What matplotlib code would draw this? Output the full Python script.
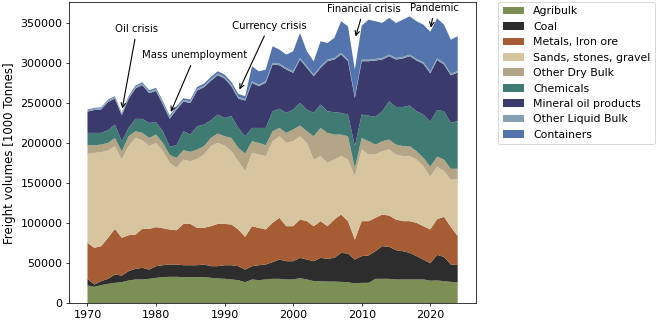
import numpy as np
import matplotlib
matplotlib.use("Agg")
import matplotlib.pyplot as plt

# ── DATA (1000 tonnes) ─────────────────────────────────────────────────────────
years = list(range(1970, 2025))

agribulk = [22500, 20800, 22900, 24500, 25800, 26600, 28700, 30000, 30000, 30800,
            32000, 32900, 33300, 33300, 32900, 32900, 32900, 32900, 32000, 31200,
            30800, 30000, 29100, 26600, 30000, 29100, 30000, 30800, 30800, 30000,
            30000, 31600, 30000, 27900, 27900, 27400, 27400, 27000, 26600, 25000,
            25800, 25800, 30800, 30800, 30800, 30000, 30000, 30000, 30000, 30000,
            28500, 28700, 27900, 27000, 26500]
coal = [8300, 2900, 5000, 6300, 10400, 8300, 11700, 13300, 14500, 11600,
        14600, 14900, 15400, 15400, 14900, 14900, 14900, 15800, 14600, 15400,
        17000, 17800, 17500, 15800, 16600, 18700, 18700, 20800, 24100, 22800,
        22800, 25400, 24900, 24900, 29100, 28400, 29600, 36200, 35800, 29900,
        33300, 34100, 34500, 40800, 39900, 36600, 35300, 33200, 29100, 24900,
        21700, 32000, 30300, 21700, 21500]
metals = [44900, 45800, 43700, 51200, 57000, 47100, 44900, 42800, 48700, 50800,
          48700, 46200, 43700, 42800, 51600, 51600, 46600, 45700, 49900, 52800,
          51600, 50800, 45800, 40800, 49900, 46600, 43700, 49100, 52000, 43700,
          43700, 47800, 47900, 43700, 45800, 40700, 47800, 47900, 40400, 25000,
          43700, 42900, 41600, 39500, 39100, 38200, 37500, 39600, 41600, 41600,
          42400, 44500, 50000, 47000, 36200]
sands = [111100, 118500, 117300, 109000, 103200, 97700, 111100, 120700, 110700, 103200,
         105200, 96100, 83200, 77800, 80300, 78200, 86100, 91600, 99900, 101100,
         97800, 91500, 85200, 82000, 91500, 91600, 91500, 101900, 101900, 104000,
         106100, 104000, 97700, 83200, 81100, 79100, 74900, 72800, 76900, 79000,
         89400, 83200, 79100, 79000, 82400, 81200, 81100, 81100, 79000, 74900,
         65700, 65700, 57000, 59100, 70800]
other_dry = [10800, 9600, 9500, 9500, 10300, 10400, 12400, 8300, 9100, 10300,
             10400, 10400, 9800, 12500, 11700, 11700, 11700, 10400, 10300, 11700,
             11600, 16600, 16700, 22000, 14600, 14500, 13700, 12500, 10400, 12500,
             14600, 13400, 14600, 29100, 35300, 37400, 31200, 27000, 29100, 10400,
             14500, 16600, 12400, 12500, 12500, 12400, 12500, 12500, 10400, 10400,
             12500, 12500, 14500, 13300, 13300]
chemicals = [15400, 15400, 14600, 15800, 16700, 12500, 10400, 15400, 17500, 18800,
             15400, 14600, 10400, 15900, 23700, 21600, 29100, 27000, 22100, 23700,
             22900, 27300, 24900, 21600, 16600, 18700, 21600, 24900, 23800, 25000,
             24900, 28200, 27000, 29200, 29200, 27000, 27900, 27100, 27100, 27100,
             29200, 32000, 34600, 37400, 47800, 47000, 49000, 50700, 49900, 54100,
             56200, 58200, 60300, 57400, 59500]
mineral_oil = [26600, 28600, 29300, 35400, 32400, 32400, 36400, 38200, 42100, 37100,
               39000, 33400, 34800, 44500, 37000, 39400, 44600, 46600, 49300, 49200,
               49200, 37100, 36700, 44600, 56300, 52100, 56300, 58400, 54500, 54100,
               45900, 54200, 52100, 45800, 45800, 62500, 65800, 72800, 66600, 60400,
               66600, 67900, 70400, 64600, 56300, 59200, 60500, 61700, 63400, 63300,
               60400, 62500, 58400, 59500, 60400]
other_liquid = [1500, 1500, 1500, 1600, 1600, 1600, 1700, 1800, 1900, 1900,
                2000, 2000, 2000, 2000, 2000, 2000, 2000, 2000, 2000, 2000,
                2000, 2000, 2000, 2000, 2000, 2000, 2000, 2000, 2000, 2000,
                2000, 2000, 2000, 2000, 2000, 2000, 2000, 2000, 2000, 2000,
                2000, 2000, 2000, 2000, 2000, 2000, 2000, 2000, 2000, 2000,
                2000, 2000, 2000, 2000, 2000]
containers = [1000, 1100, 1200, 1300, 1400, 1400, 1500, 1600, 1700, 1800,
              1900, 2000, 2000, 2100, 2200, 2300, 2500, 2600, 2800, 2900,
              3000, 3300, 3800, 3400, 18700, 16600, 14500, 20800, 17500, 16700,
              24900, 31200, 18700, 16600, 31200, 20800, 25000, 39600, 41600, 33200,
              42400, 49900, 47000, 43700, 45800, 43700, 46500, 47800, 47000, 47000,
              49900, 50000, 47800, 42400, 43600]

labels = ['Agribulk', 'Coal', 'Metals, Iron ore', 'Sands, stones, gravel',
          'Other Dry Bulk', 'Chemicals', 'Mineral oil products',
          'Other Liquid Bulk', 'Containers']
colors = ['#7c8f55', '#2d2d2d', '#a65d33', '#d6c59f', '#b4a587',
          '#3f7b73', '#3b3a6c', '#85a2b4', '#5474ad']

# (label, event year, event value, text year, text value)
events = [
    ('Oil crisis',        1975, 240000, 1977.2, 343000),
    ('Mass unemployment', 1982, 236000, 1985.7, 310000),
    ('Currency crisis',   1992, 264000, 1996.5, 347000),
    ('Financial crisis',  2009, 330000, 2010.3, 368000),
    ('Pandemic',          2020, 341000, 2020.6, 369000),
]

S = 0.68            # figure was drawn larger and shrunk
TICK_FS = 8.0
LEG_FS = 7.85
ANN_FS = 7.3
LAB_FS = 8.5

plt.rcParams['axes.linewidth'] = 0.8 * S
plt.rcParams['patch.linewidth'] = 1.0 * S

# ── PLOT ───────────────────────────────────────────────────────────────────────
fig = plt.figure(figsize=(6.6, 3.22), dpi=100)
ax = fig.add_axes([0.1045, 0.0575, 0.617, 0.9365])

series = [agribulk, coal, metals, sands, other_dry, chemicals,
          mineral_oil, other_liquid, containers]
ax.stackplot(years, *series, labels=labels, colors=colors)

for text, x, y, tx, ty in events:
    ax.annotate(text, xy=(x, y), xytext=(tx, ty), ha='center', va='center',
                fontsize=ANN_FS,
                arrowprops=dict(arrowstyle='->', color='black', lw=0.8,
                                mutation_scale=8))

ax.set_ylabel('Freight volumes [1000 Tonnes]', fontsize=LAB_FS, labelpad=4 * S)
ax.tick_params(labelsize=TICK_FS, length=3.5 * S, width=0.8 * S, pad=3.5 * S)
ax.legend(loc='upper left', bbox_to_anchor=(1.054, 1.0), borderaxespad=0,
          fontsize=LEG_FS)

fig.savefig('out.png', dpi=100)
